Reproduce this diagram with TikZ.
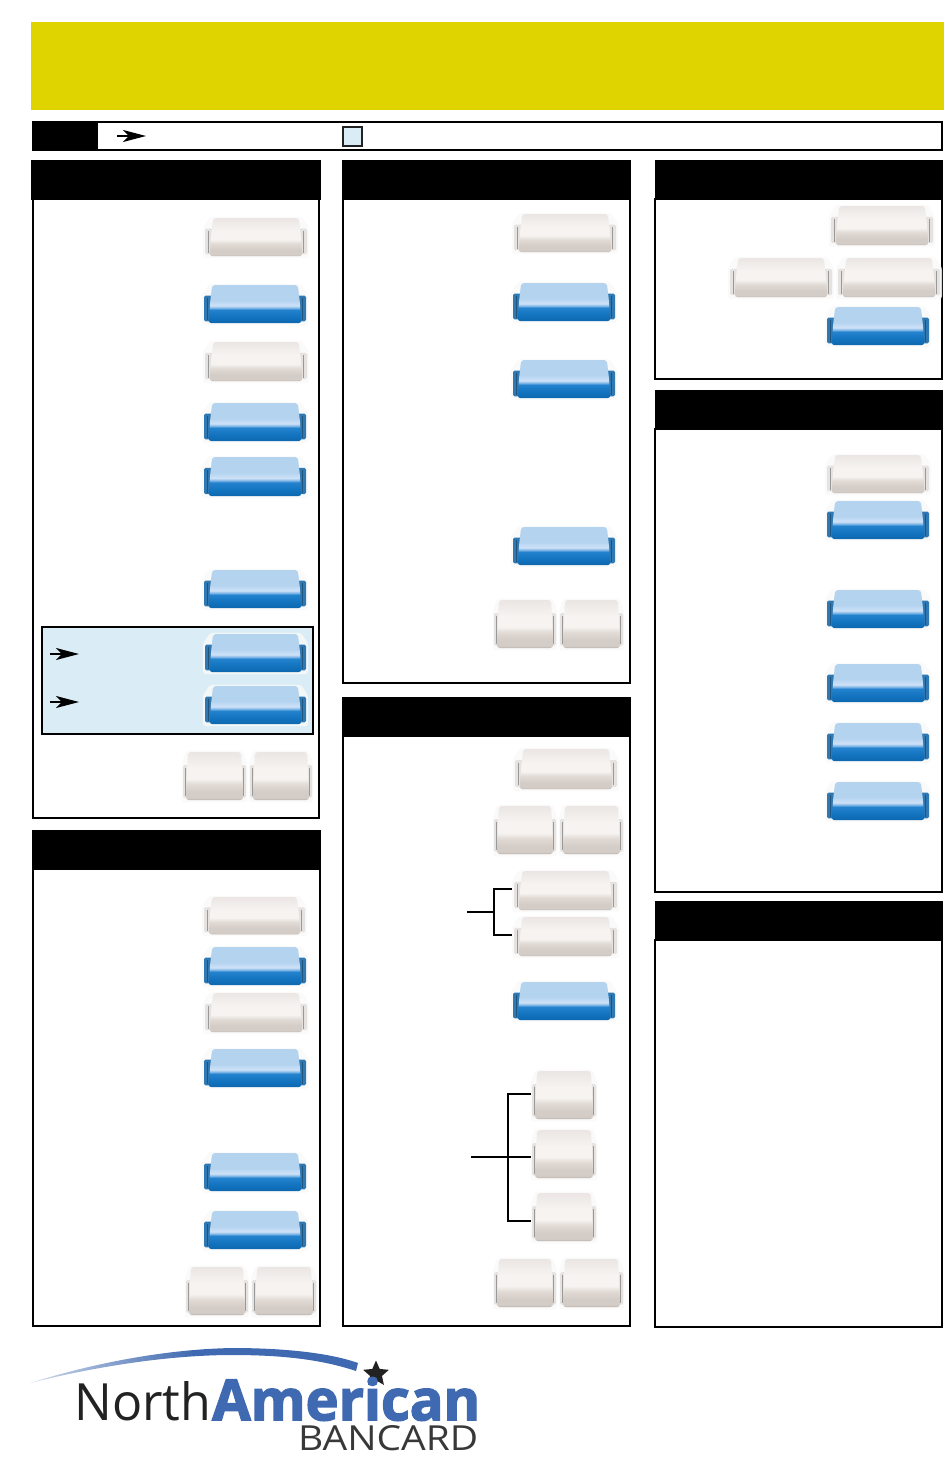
\documentclass[tikz,border=0pt]{standalone}
\usepackage{fontspec}
\usepackage{graphicx}
\usetikzlibrary{arrows.meta,shapes.geometric}
\newfontfamily\logofont{Open Sans}
\newfontfamily\logoheavy[UprightFont={* Bold},FakeBold=2.5]{Open Sans}
\definecolor{bannerY}{HTML}{E0D400}
\definecolor{paleB}{HTML}{DAEDF6}
\definecolor{logoB}{HTML}{3F69B0}
\definecolor{logoK}{HTML}{222222}
\definecolor{bA}{HTML}{B4D3EF}
\definecolor{bB}{HTML}{CEE2F8}
\definecolor{bM}{HTML}{7FB5E6}
\definecolor{bC}{HTML}{2382CE}
\definecolor{bD}{HTML}{1273BF}
\definecolor{bE}{HTML}{0E66AE}
\definecolor{bT}{HTML}{2F78B2}
\definecolor{sA}{HTML}{EBE6E3}
\definecolor{sB}{HTML}{F6F3F1}
\definecolor{sC}{HTML}{E0D9D4}
\definecolor{sD}{HTML}{D4CCC7}
\definecolor{sE}{HTML}{B5ADA7}
\definecolor{sT}{HTML}{E6E2DF}
\pgfdeclareverticalshading{bluekey}{100bp}{color(0bp)=(bE);color(25bp)=(bE);color(33bp)=(bD);color(42.5bp)=(bC);color(45bp)=(bM);color(48bp)=(bB);color(55bp)=(bA);color(75bp)=(bA);color(100bp)=(bA)}
\pgfdeclareverticalshading{silverkey}{100bp}{color(0bp)=(sE);color(25bp)=(sE);color(27bp)=(sD);color(33bp)=(sD);color(41bp)=(sC);color(47bp)=(sB);color(58bp)=(sB);color(75bp)=(sA);color(100bp)=(sA)}
\tikzset{
  x=1pt,y=-1pt,
  banner/.style={fill=bannerY,draw=none},
  headbar/.style={fill=black,draw=none},
  frameline/.style={draw=black,line width=2pt,fill=none},
  panelbox/.style={draw=black,line width=2pt,fill=paleB},
  conn/.style={draw=black,line width=1.7pt,line cap=butt},
  marker/.style={draw=black,line width=2pt,-{Stealth[length=23pt,width=12pt,inset=6pt]}},
  keyhalo/.style={fill=white!95!gray,opacity=.85,rounded corners=3pt},
  bluetab/.style={fill=bT,rounded corners=1.5pt},
  silvertab/.style={fill=sT,rounded corners=1.5pt},
  bluestripe/.style={draw=bT!70!black,line width=1pt},
  silverstripe/.style={draw=black!40,line width=1pt},
  blueface/.style={shading=bluekey,rounded corners=3pt},
  silverface/.style={shading=silverkey,rounded corners=3pt},
  keyspot/.style={inner sep=0pt,outer sep=0pt,draw=none}
}
% name, x1, y1, x2, y2, blue|silver
\newcommand{\keycap}[6]{%
  \pgfmathsetmacro\kw{(#4-#2)/100}%
  \pgfmathsetmacro\kh{(#5-#3)/100}%
  \pgfmathsetmacro\kww{#4-#2}%
  \pgfmathsetmacro\khh{#5-#3}%
  \begin{scope}[shift={(#2,#3)},xscale=\kw,yscale=\kh]
    \fill[keyhalo] (5,-3) -- (95,-3) -- (102,24) -- (102,103) -- (-2,103) -- (-2,24) -- cycle;
    \fill[#6tab] (0,27) rectangle (8,93);
    \fill[#6tab] (92,27) rectangle (100,93);
    \draw[#6stripe] (3.5,33) -- (3.5,89);
    \draw[#6stripe] (96.5,33) -- (96.5,89);
    \shade[#6face] (8,0) -- (92,0) -- (94,45) -- (95.5,98) -- (4.5,98) -- (6,45) -- cycle;
  \end{scope}
  \node[keyspot,minimum width=\kww pt,minimum height=\khh pt] (#1) at ({(#2+#4)/2},{(#3+#5)/2}) {};
}
\begin{document}
\begin{tikzpicture}
\useasboundingbox (0,0) rectangle (950,1480);
% banner
\fill[banner] (31,22) rectangle (944,110);
% legend
\draw[frameline] (33,122) rectangle (942,150);
\fill[headbar] (32,121) rectangle (98,151);
\coordinate (legA) at (117,136);
\coordinate (legB) at (146,136);
\draw[marker] (legA) -- (legB);
\draw[draw=logoK,line width=1.6pt,fill=paleB] (343,127) rectangle (362,146);
% panel frames
\draw[frameline] (33,199) rectangle (319,818);
\fill[headbar] (31,160) rectangle (321,200);
\draw[frameline] (33,869) rectangle (320,1326);
\fill[headbar] (32,830) rectangle (321,870);
\draw[frameline] (343,199) rectangle (630,683);
\fill[headbar] (342,160) rectangle (631,200);
\draw[frameline] (343,736) rectangle (630,1326);
\fill[headbar] (342,697) rectangle (631,737);
\draw[frameline] (655,199) rectangle (942,379);
\fill[headbar] (655,160) rectangle (943,200);
\draw[frameline] (655,429) rectangle (942,892);
\fill[headbar] (655,390) rectangle (943,430);
\draw[frameline] (655,940) rectangle (942,1327);
\fill[headbar] (655,901) rectangle (943,941);
% panel 1
\draw[panelbox] (42,627) rectangle (313,734);
\keycap{a1}{205}{218}{307}{257}{silver}
\keycap{a2}{204}{285}{306}{324}{blue}
\keycap{a3}{205}{342}{307}{382}{silver}
\keycap{a4}{204}{403}{306}{442}{blue}
\keycap{a5}{204}{457}{306}{497}{blue}
\keycap{a6}{204}{570}{306}{609}{blue}
\keycap{a7}{205}{634}{306}{673}{blue}
\keycap{a8}{205}{686}{306}{725}{blue}
\keycap{a9}{183}{752}{246}{801}{silver}
\keycap{a10}{250}{752}{312}{801}{silver}
\coordinate (mA) at (50,654);
\coordinate (mB) at (79,654);
\draw[marker] (mA) -- (mB);
\coordinate (mC) at (50,702);
\coordinate (mD) at (79,702);
\draw[marker] (mC) -- (mD);
% panel 2
\keycap{b1}{204}{897}{305}{935}{silver}
\keycap{b2}{204}{947}{306}{986}{blue}
\keycap{b3}{205}{993}{307}{1033}{silver}
\keycap{b4}{204}{1049}{306}{1088}{blue}
\keycap{b5}{204}{1153}{306}{1192}{blue}
\keycap{b6}{204}{1211}{306}{1250}{blue}
\keycap{b7}{186}{1267}{248}{1316}{silver}
\keycap{b8}{252}{1267}{316}{1316}{silver}
% panel 3
\keycap{c1}{514}{214}{616}{253}{silver}
\keycap{c2}{513}{283}{615}{322}{blue}
\keycap{c3}{513}{360}{615}{399}{blue}
\keycap{c4}{513}{527}{615}{566}{blue}
\keycap{c5}{494}{600}{556}{649}{silver}
\keycap{c6}{560}{600}{623}{649}{silver}
% panel 4
\keycap{d1}{515}{749}{617}{790}{silver}
\keycap{d2}{494}{806}{556}{855}{silver}
\keycap{d3}{560}{806}{623}{855}{silver}
\keycap{d4}{514}{871}{617}{911}{silver}
\keycap{d5}{514}{917}{617}{957}{silver}
\keycap{d6}{513}{982}{615}{1021}{blue}
\keycap{d7}{532}{1071}{596}{1120}{silver}
\keycap{d8}{532}{1130}{596}{1179}{silver}
\keycap{d9}{532}{1193}{596}{1242}{silver}
\keycap{d10}{494}{1259}{556}{1308}{silver}
\keycap{d11}{560}{1259}{623}{1308}{silver}
\coordinate (brA) at (494,912);
\coordinate (brAend) at (467,912);
\draw[conn] ([yshift=2pt,xshift=-2pt]d4.west) -| (brA) |- ([yshift=2pt,xshift=-2pt]d5.west);
\draw[conn] (brAend) -- (brA);
\coordinate (brB) at (508,1157);
\coordinate (brBend) at (471,1157);
\draw[conn] ([yshift=1.5pt,xshift=-1pt]d7.west) -| (brB) |- ([yshift=-3.5pt,xshift=-1pt]d9.west);
\draw[conn] (brBend) -- ([yshift=-2.5pt,xshift=-1pt]d8.west);
% panel 5
\keycap{e1}{831}{206}{933}{246}{silver}
\keycap{e2}{730}{258}{832}{298}{silver}
\keycap{e3}{838}{258}{940}{298}{silver}
\keycap{e4}{827}{307}{929}{346}{blue}
% panel 6
\keycap{f1}{827}{455}{929}{494}{silver}
\keycap{f2}{827}{501}{929}{540}{blue}
\keycap{f3}{827}{590}{929}{629}{blue}
\keycap{f4}{827}{664}{929}{703}{blue}
\keycap{f5}{827}{723}{929}{762}{blue}
\keycap{f6}{827}{782}{929}{821}{blue}
% logo
\shade[left color=logoB!25!white,right color=logoB,middle color=logoB]
  (30,1383) .. controls (110,1358) and (180,1349) .. (232,1348)
  .. controls (285,1348) and (330,1353) .. (358,1363) -- (356,1371)
  .. controls (320,1359) and (280,1355) .. (232,1355)
  .. controls (180,1355) and (110,1363) .. (30,1383) -- cycle;
\node[star,star points=5,star point ratio=2.15,fill=logoK,draw=none,inner sep=0pt,minimum size=27pt] (logostar) at (376,1374) {};
\node[anchor=south west,inner sep=0pt,text=logoK] (logoN) at (74,1421)
  {\resizebox{137pt}{39pt}{\logofont North}};
\node[anchor=south west,inner sep=0pt,text=logoB] (logoA) at (212,1421)
  {\resizebox{268pt}{43pt}{\logoheavy American}};
\node[anchor=south west,inner sep=0pt,text=logoK!90!white] (logoC) at (298,1451)
  {\resizebox{180pt}{25pt}{\logofont BANCARD}};
\end{tikzpicture}
\end{document}
